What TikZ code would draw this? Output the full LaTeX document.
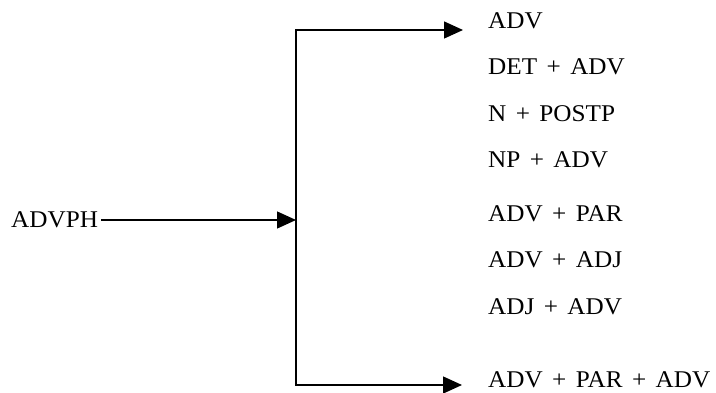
\documentclass[tikz,border=0pt]{standalone}
\usepackage{fontspec}
\setmainfont{Liberation Serif}[WordSpace=1.5,FakeStretch=1.05]
\usetikzlibrary{arrows.meta}
\tikzset{
  lab/.style={anchor=base west, inner sep=0pt, font=\fontsize{24}{29}\selectfont},
  conn/.style={line width=1.4pt},
  arr/.style={conn, -{Triangle[length=19pt,width=17pt]}}
}
\begin{document}
\begin{tikzpicture}[x=1pt,y=-1pt]
\useasboundingbox (0,0) rectangle (716,393);
\node[lab] (src) at (11,228) {ADVPH};
\node[lab] (l1) at (488,29) {ADV};
\node[lab] (l2) at (488,75) {DET + ADV};
\node[lab] (l3) at (488,122) {N + POSTP};
\node[lab] (l4) at (488,168) {NP + ADV};
\node[lab] (l5) at (488,222) {ADV + PAR};
\node[lab] (l6) at (488,268) {ADV + ADJ};
\node[lab] (l7) at (488,315) {ADJ + ADV};
\node[lab] (l8) at (488,388) {ADV + PAR + ADV};
\coordinate (top) at (296,30);
\coordinate (bot) at (296,385);
\coordinate (mid) at (296,220);
\coordinate (topend) at (463,30);
\coordinate (botend) at (462,385);
\draw[conn] (top) -- (bot);
\draw[arr] (src.east |- mid) ++(3,0) -- (mid);
\draw[arr] ([xshift=-0.7pt]top) -- (topend);
\draw[arr] ([xshift=-0.7pt]bot) -- (botend);
\end{tikzpicture}
\end{document}
